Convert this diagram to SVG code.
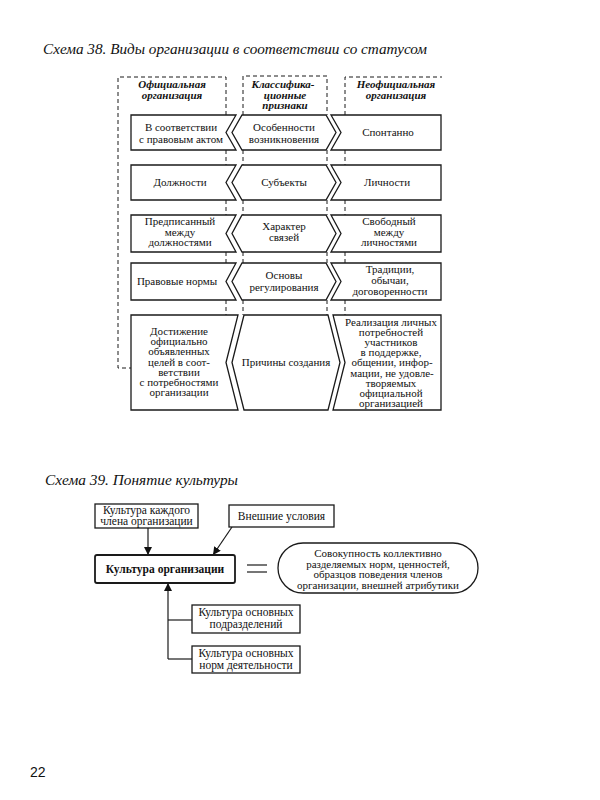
<svg xmlns="http://www.w3.org/2000/svg" width="600" height="800" viewBox="0 0 600 800">
<style>
.bg{fill:#ffffff}
.box{fill:#ffffff;stroke:#1a1a1a;stroke-width:1.3}
.dash{fill:none;stroke:#1a1a1a;stroke-width:1;stroke-dasharray:4,3}
.ln{fill:none;stroke:#1a1a1a;stroke-width:1.2}
.t{font-family:"Liberation Serif","Times New Roman",serif;font-size:11px;fill:#111;text-anchor:middle}
.h{font-family:"Liberation Serif","Times New Roman",serif;font-size:11px;font-style:italic;font-weight:bold;fill:#111;text-anchor:middle}
.title{font-family:"Liberation Serif","Times New Roman",serif;font-size:14px;font-style:italic;fill:#111}
.b{font-family:"Liberation Serif","Times New Roman",serif;font-size:11.5px;font-weight:bold;fill:#111;text-anchor:middle}
.pg{font-family:"Liberation Sans",Arial,sans-serif;font-size:14px;fill:#111}
</style>
<defs>
<marker id="ah" viewBox="0 0 10 10" refX="10" refY="5" markerWidth="8" markerHeight="8" markerUnits="userSpaceOnUse" orient="auto">
<path d="M0,0 L10,5 L0,10 Z" fill="#111"/>
</marker>
</defs>
<rect class="bg" x="0" y="0" width="600" height="800"/>

<text class="title" x="43" y="54" textLength="384" lengthAdjust="spacingAndGlyphs">Схема 38. Виды организации в соответствии со статусом</text>

<g id="connectors38">
<path class="dash" d="M226,115 L226,77 L118,77 L118,368 L131,368"/>
<path class="dash" d="M243,115 L243,76 L327,76 L327,115"/>
<path class="dash" d="M345,115 L345,77 L442,77"/>
<path class="dash" d="M226,150 V165 M243,150 V165 M327,150 V165 M345,150 V165"/>
<path class="dash" d="M226,200 V215 M243,200 V215 M327,200 V215 M345,200 V215"/>
<path class="dash" d="M226,252 V263 M243,252 V263 M327,252 V263 M345,252 V263"/>
<path class="dash" d="M226,300 V315 M243,300 V315 M327,300 V315 M345,300 V315"/>
</g>

<g id="head-official">
<text class="h" x="172" y="88">Официальная</text>
<text class="h" x="172" y="99">организация</text>
</g>
<g id="head-class">
<text class="h" x="283" y="88">Классифика-</text>
<text class="h" x="285" y="98.5">ционные</text>
<text class="h" x="285" y="109">признаки</text>
</g>
<g id="head-unofficial">
<text class="h" x="396" y="88">Неофициальная</text>
<text class="h" x="396" y="99">организация</text>
</g>

<!-- Row 1: 115-150 -->
<g id="r1-left">
<path class="box" d="M131,115 L236,115 L226,132.5 L236,150 L131,150 Z"/>
<text class="t" x="181" y="131">В соответствии</text>
<text class="t" x="181" y="143">с правовым актом</text>
</g>
<g id="r1-center">
<path class="box" d="M242,115 L326,115 L336,132.5 L326,150 L242,150 L232,132.5 Z"/>
<text class="t" x="284" y="131">Особенности</text>
<text class="t" x="284" y="143">возникновения</text>
</g>
<g id="r1-right">
<path class="box" d="M331,115 L441,115 L441,150 L331,150 L341,132.5 Z"/>
<text class="t" x="388" y="136">Спонтанно</text>
</g>

<!-- Row 2: 165-200 -->
<g id="r2-left">
<path class="box" d="M131,165 L236,165 L226,182.5 L236,200 L131,200 Z"/>
<text class="t" x="180" y="186">Должности</text>
</g>
<g id="r2-center">
<path class="box" d="M242,165 L326,165 L336,182.5 L326,200 L242,200 L232,182.5 Z"/>
<text class="t" x="284" y="186">Субъекты</text>
</g>
<g id="r2-right">
<path class="box" d="M331,165 L441,165 L441,200 L331,200 L341,182.5 Z"/>
<text class="t" x="387" y="186">Личности</text>
</g>

<!-- Row 3: 215-252 -->
<g id="r3-left">
<path class="box" d="M131,215 L236,215 L226,233.5 L236,252 L131,252 Z"/>
<text class="t" x="180" y="225">Предписанный</text>
<text class="t" x="180" y="235.5">между</text>
<text class="t" x="180" y="246">должностями</text>
</g>
<g id="r3-center">
<path class="box" d="M242,215 L326,215 L336,233.5 L326,252 L242,252 L232,233.5 Z"/>
<text class="t" x="284" y="230">Характер</text>
<text class="t" x="284" y="241">связей</text>
</g>
<g id="r3-right">
<path class="box" d="M331,215 L441,215 L441,252 L331,252 L341,233.5 Z"/>
<text class="t" x="389" y="225">Свободный</text>
<text class="t" x="389" y="235.5">между</text>
<text class="t" x="389" y="246">личностями</text>
</g>

<!-- Row 4: 263-300 -->
<g id="r4-left">
<path class="box" d="M131,263 L236,263 L226,281.5 L236,300 L131,300 Z"/>
<text class="t" x="177" y="285">Правовые нормы</text>
</g>
<g id="r4-center">
<path class="box" d="M242,263 L326,263 L336,281.5 L326,300 L242,300 L232,281.5 Z"/>
<text class="t" x="284" y="279">Основы</text>
<text class="t" x="284" y="291">регулирования</text>
</g>
<g id="r4-right">
<path class="box" d="M331,263 L441,263 L441,300 L331,300 L341,281.5 Z"/>
<text class="t" x="390" y="273">Традиции,</text>
<text class="t" x="390" y="284">обычаи,</text>
<text class="t" x="390" y="295">договоренности</text>
</g>

<!-- Row 5: 315-410 -->
<g id="r5-left">
<path class="box" d="M131,315 L238,315 L226,362.5 L238,410 L131,410 Z"/>
<text class="t" x="179" y="335">Достижение</text>
<text class="t" x="179" y="345.2">официально</text>
<text class="t" x="179" y="355.4">объявленных</text>
<text class="t" x="179" y="365.6">целей в соот-</text>
<text class="t" x="179" y="375.8">ветствии</text>
<text class="t" x="179" y="386">с потребностями</text>
<text class="t" x="179" y="396.2">организации</text>
</g>
<g id="r5-center">
<path class="box" d="M244,315 L328,315 L340,362.5 L328,410 L244,410 L232,362.5 Z"/>
<text class="t" x="286" y="366">Причины создания</text>
</g>
<g id="r5-right">
<path class="box" d="M333,315 L441,315 L441,410 L333,410 L345,362.5 Z"/>
<text class="t" x="391" y="326">Реализация личных</text>
<text class="t" x="391" y="336.1">потребностей</text>
<text class="t" x="391" y="346.2">участников</text>
<text class="t" x="391" y="356.3">в поддержке,</text>
<text class="t" x="392" y="366.4">общении, инфор-</text>
<text class="t" x="392" y="376.5">мации, не удовле-</text>
<text class="t" x="391" y="386.6">творяемых</text>
<text class="t" x="391" y="396.7">официальной</text>
<text class="t" x="391" y="406.8">организацией</text>
</g>

<!-- Schema 39 -->
<text class="title" x="45" y="485" textLength="193" lengthAdjust="spacingAndGlyphs">Схема 39. Понятие культуры</text>

<g id="connectors39">
<line class="ln" x1="148" y1="528" x2="148" y2="555" marker-end="url(#ah)"/>
<line class="ln" x1="232" y1="527" x2="213" y2="555" marker-end="url(#ah)"/>
<path class="ln" d="M168,659 L168,583" marker-end="url(#ah)"/>
<line class="ln" x1="168" y1="620" x2="192" y2="620"/>
<line class="ln" x1="168" y1="659" x2="192" y2="659"/>
<line class="ln" x1="247" y1="565" x2="267" y2="565"/>
<line class="ln" x1="247" y1="572" x2="267" y2="572"/>
</g>

<g id="n-member">
<rect class="box" x="95" y="504" width="103" height="24"/>
<text class="t" x="146.5" y="514" style="font-size:11.5px">Культура каждого</text>
<text class="t" x="146.5" y="525" style="font-size:11.5px">члена организации</text>
</g>
<g id="n-external">
<rect class="box" x="229" y="505" width="105" height="22"/>
<text class="t" x="281.5" y="520" style="font-size:11.5px">Внешние условия</text>
</g>
<g id="n-culture">
<rect class="box" x="95" y="555" width="140" height="28" rx="2" style="stroke-width:1.8"/>
<text class="b" x="165" y="573">Культура организации</text>
</g>
<g id="n-definition">
<rect class="box" x="278" y="543" width="200" height="50" rx="25"/>
<text class="t" x="378" y="557">Совокупность коллективно</text>
<text class="t" x="378" y="567.5">разделяемых норм, ценностей,</text>
<text class="t" x="378" y="578">образцов поведения членов</text>
<text class="t" x="378" y="588.5">организации, внешней атрибутики</text>
</g>
<g id="n-divisions">
<rect class="box" x="192" y="605" width="108" height="28"/>
<text class="t" x="246" y="616" style="font-size:11.5px">Культура основных</text>
<text class="t" x="246" y="628" style="font-size:11.5px">подразделений</text>
</g>
<g id="n-norms">
<rect class="box" x="192" y="646" width="108" height="27"/>
<text class="t" x="246" y="657" style="font-size:11.5px">Культура основных</text>
<text class="t" x="246" y="669" style="font-size:11.5px">норм деятельности</text>
</g>

<text class="pg" x="30" y="777">22</text>
</svg>
